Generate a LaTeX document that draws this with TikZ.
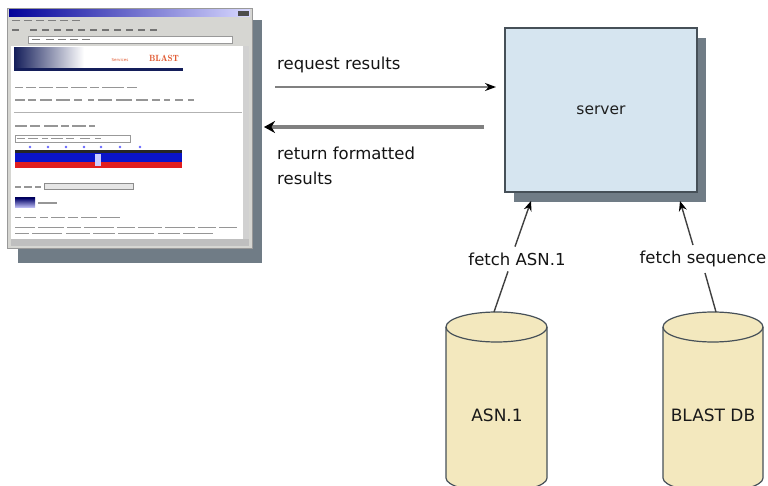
\documentclass[tikz,border=0pt]{standalone}
\usepackage{fontspec}
\setmainfont{DejaVu Sans}
\usetikzlibrary{arrows.meta}
\definecolor{shadowgray}{RGB}{112,124,134}
\definecolor{winface}{RGB}{214,214,210}
\definecolor{serverblue}{RGB}{214,229,240}
\definecolor{dbfill}{RGB}{243,232,190}
\definecolor{edgegray}{RGB}{70,80,88}
\definecolor{linegray}{RGB}{128,128,128}
\definecolor{txtgray}{RGB}{150,150,150}
\definecolor{navy}{RGB}{20,30,90}
\definecolor{barblue}{RGB}{10,20,200}
\definecolor{barred}{RGB}{225,30,30}
\definecolor{blastred}{RGB}{225,90,50}
\tikzset{
  lbl/.style={inner sep=0pt, font=\fontsize{16.5}{25}\selectfont, text=black!92, align=left},
  dbbody/.style={fill=dbfill, draw=edgegray, line width=1.2pt},
  fetchline/.style={draw=black!75, line width=1.4pt},
}
\begin{document}
\begin{tikzpicture}[x=1pt,y=-1pt]
\useasboundingbox (0,0) rectangle (768,486);
\clip (0,0) rectangle (768,486);
\fill[white] (0,0) rectangle (768,486);

% ---------------- browser screenshot ----------------
\fill[shadowgray] (18,20) rectangle (262,263);
\node[draw=black!40, fill=winface, minimum width=245pt, minimum height=240pt, inner sep=0pt, anchor=north west] (browser) at (7,8) {};
\shade[left color=blue!60!black, right color=blue!15!white] (9,10) rectangle (250,17);
\fill[black!70] (238,11) rectangle (249,16);
% menu and toolbar
\foreach \x in {12,24,36,48,60,72}{\draw[black!50, line width=1pt] (\x,21) -- (\x+8,21);}
\foreach \x in {12,30,42,54,66,78,90,102,114,126,138,150}{\draw[black!55, line width=2pt] (\x,30) -- (\x+7,30);}
\fill[white, draw=black!40] (28,36) rectangle (232,43);
\foreach \x in {32,46,58,70,82}{\draw[black!50, line width=1pt] (\x,39.5) -- (\x+8,39.5);}
% content
\fill[white] (11,46) rectangle (243,239);
\fill[black!18] (243,46) rectangle (249,239);
\fill[black!25] (11,239) rectangle (249,246);
% banner
\shade[left color=navy, right color=white] (14,48) rectangle (84,68);
\fill[navy] (14,68) rectangle (183,71);
\node[inner sep=0pt, font=\fontsize{4}{4}\selectfont, text=blastred] (bsvc) at (120,60) {Services};
\node[inner sep=0pt, font=\fontfamily{lmr}\bfseries\fontsize{9}{9}\selectfont, text=blastred] (blast) at (164,58) {BLAST};
% text lines
\foreach \x/\w in {15/8,26/10,39/14,56/12,71/16,90/9,102/22,127/10}{\draw[draw=txtgray, line width=1pt] (\x,88) -- (\x+\w,88);}
\foreach \x/\w in {15/10,28/8,40/12,56/14,74/8,88/6,98/14,116/16,136/12,152/8,164/6,175/8,188/6}{\draw[draw=txtgray, line width=1.6pt] (\x,100) -- (\x+\w,100);}
\draw[black!30, line width=1pt] (14,113) -- (242,113);
\foreach \x/\w in {15/12,30/10,44/14,61/8,72/14,89/6}{\draw[draw=txtgray, line width=1.6pt] (\x,126) -- (\x+\w,126);}
\draw[black!40, line width=0.5pt] (15,135) rectangle (130,142);
\foreach \x/\w in {17/8,28/10,42/6,51/12,66/8,80/10,95/6}{\draw[draw=txtgray, line width=1pt] (\x,138.5) -- (\x+\w,138.5);}
\foreach \x in {30,48,66,84,101,120,140}{\fill[blue!60] (\x,147) circle (1.3);}
\fill[black!85] (15,150) rectangle (182,153);
\fill[barblue] (15,153) rectangle (182,162);
\fill[barred] (15,162) rectangle (182,168);
\fill[white!80!blue] (95,154) rectangle (101,166);
\foreach \x/\w in {15/6,24/8,35/6}{\draw[draw=txtgray, line width=1.6pt] (\x,187) -- (\x+\w,187);}
\draw[black!45, fill=black!10] (44,183) rectangle (133,189);
\shade[top color=blue!40!black, bottom color=blue!20!white] (15,198) rectangle (35,208);
\draw[draw=txtgray, line width=2pt] (38,203) -- (57,203);
\foreach \x/\w in {15/6,24/12,40/8,51/14,68/10,81/16,100/20}{\draw[draw=txtgray, line width=1pt] (\x,218) -- (\x+\w,218);}
\foreach \x/\w in {15/20,38/26,67/14,84/30,117/18,138/24,165/30,198/18,219/18}{\draw[draw=txtgray, line width=1pt] (\x,228) -- (\x+\w,228);}
\foreach \x/\w in {15/14,32/30,66/24,93/22,118/36,158/22,183/30}{\draw[draw=txtgray, line width=0.8pt] (\x,233) -- (\x+\w,233);}

% ---------------- server ----------------
\fill[shadowgray] (514,38) rectangle (706,202);
\node[draw=edgegray, line width=1.3pt, fill=serverblue, minimum width=192pt, minimum height=164pt, inner sep=0pt,
      font=\fontsize{15.5}{15.5}\selectfont, text=black!88] (server) at (601,110) {server};

% ---------------- request / return ----------------
\node[lbl, anchor=west] (req) at (277,65) {request results};
\node[lbl, anchor=north west] (ret) at (277,147) {return formatted\\results};
\coordinate (reqstart) at (275,87);
\coordinate (reqend) at (496,87);
\coordinate (retstart) at (484,127);
\coordinate (retend) at (264,127);
\draw[draw=linegray, line width=1.6pt, -{Stealth[black,length=11pt,width=8pt]}] (reqstart) -- (reqend);
\draw[draw=linegray, line width=4pt, -{Stealth[black,length=11pt,width=12pt]}] (retstart) -- (retend);

% ---------------- databases ----------------
\path[dbbody] (446,327) -- (446,478) arc[start angle=180, end angle=360, x radius=50.5pt, y radius=14pt] -- (547,327) arc[start angle=0, end angle=180, x radius=50.5pt, y radius=15pt] -- cycle;
\draw[edgegray, line width=1.2pt] (446,327) arc[start angle=180, end angle=360, x radius=50.5pt, y radius=15pt];
\node[inner sep=0pt, font=\fontsize{17}{17}\selectfont, text=black!90] (asn) at (497,415) {ASN.1};

\path[dbbody] (663,327) -- (663,478) arc[start angle=180, end angle=360, x radius=50pt, y radius=14pt] -- (763,327) arc[start angle=0, end angle=180, x radius=50pt, y radius=15pt] -- cycle;
\draw[edgegray, line width=1.2pt] (663,327) arc[start angle=180, end angle=360, x radius=50pt, y radius=15pt];
\node[inner sep=0pt, font=\fontsize{17}{17}\selectfont, text=black!90] (blastdb) at (713,415) {BLAST DB};

\coordinate (asntop) at (494,312);
\coordinate (blasttop) at (716,312);

% ---------------- fetch connectors ----------------
\node[lbl, outer sep=6pt] (fasn) at (517,259) {fetch ASN.1};
\node[lbl, outer sep=6pt] (fseq) at (703,259) {fetch sequence};
\coordinate (asnin) at (531,201);
\coordinate (seqin) at (680,201);
\draw[fetchline] (asntop) -- (fasn.south -| 508,0);
\draw[fetchline, -{Stealth[black,length=10pt,width=8pt]}] (fasn.north -| 515,0) -- (asnin);
\draw[fetchline] (blasttop) -- (fseq.south -| 705,0);
\draw[fetchline, -{Stealth[black,length=10pt,width=8pt]}] (fseq.north -| 693,0) -- (seqin);
\end{tikzpicture}
\end{document}
